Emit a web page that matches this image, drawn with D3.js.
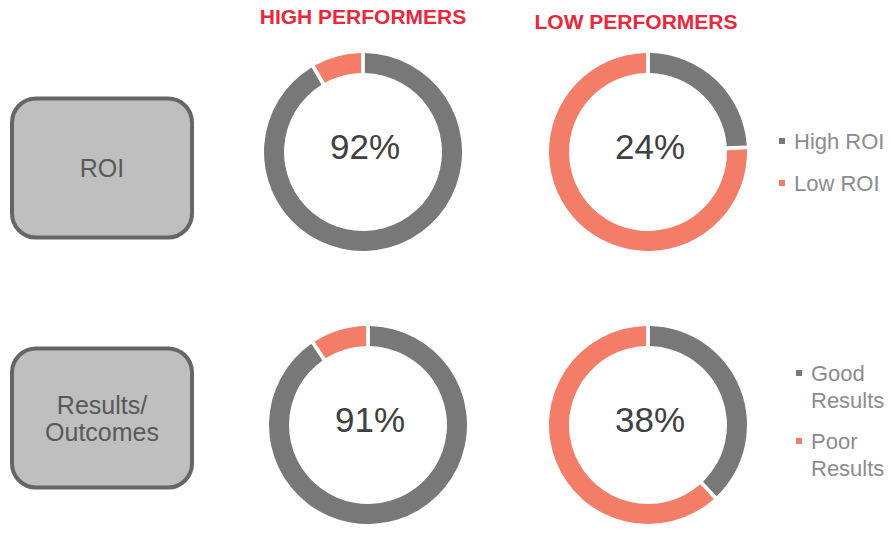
<!DOCTYPE html>
<html>
<head>
<meta charset="utf-8">
<script src="https://cdn.jsdelivr.net/npm/d3@7"></script>
<style>
  html, body { margin: 0; padding: 0; background: #ffffff; }
  svg { display: block; font-family: "Liberation Sans", Arial, sans-serif; }
</style>
</head>
<body>
<svg id="chart" width="891" height="534"></svg>
<script>
// ---- data ----
const groups = ["HIGH PERFORMERS", "LOW PERFORMERS"];
const metrics = ["ROI", "Results/Outcomes"];
const metricLabels = [["ROI"], ["Results/", "Outcomes"]];
// share of the "good" category (High ROI / Good Results), per metric, per group
const goodShare = [
  [92, 24],  // ROI: high performers, low performers
  [91, 38]   // Results/Outcomes
];
const legendLabels = [
  [["High ROI"], ["Low ROI"]],
  [["Good", "Results"], ["Poor", "Results"]]
];
const categories = ["good", "poor"];

// ---- styles ----
const color = d3.scaleOrdinal().domain(categories).range(["#787878", "#f47d68"]);
const svg = d3.select("#chart");

const colX = d3.scalePoint().domain(groups).range([363, 648]);
const rowY = d3.scalePoint().domain(metrics).range([152, 425]);
const boxY = d3.scalePoint().domain(metrics).range([168, 418]);

const outerR = 99, innerR = 79;
const pie = d3.pie().sort(null).value(d => d.value).padAngle(0.03);
const arc = d3.arc().innerRadius(innerR).outerRadius(outerR);

// Titles
svg.selectAll("text.title").data(groups).join("text")
  .attr("class", "title")
  .attr("x", (d, i) => colX(d) + (i === 0 ? 0 : -12))
  .attr("y", (d, i) => i === 0 ? 24 : 29)
  .attr("text-anchor", "middle")
  .attr("font-size", 21)
  .attr("font-weight", "bold")
  .attr("fill", "#e8283c")
  .text(d => d);

metrics.forEach((m, mi) => {
  // metric box
  const bh = 139, bw = 180;
  const g = svg.append("g");
  g.append("rect")
    .attr("x", 12).attr("y", boxY(m) - bh / 2)
    .attr("width", bw).attr("height", bh)
    .attr("rx", 24).attr("ry", 24)
    .attr("fill", "#bfbfbf")
    .attr("stroke", "#666666")
    .attr("stroke-width", 4);
  const lines = metricLabels[mi];
  const lh = 27;
  g.selectAll("text.mlabel").data(lines).join("text")
    .attr("class", "mlabel")
    .attr("x", 12 + bw / 2)
    .attr("y", (d, i) => boxY(m) + 9 + (i - (lines.length - 1) / 2) * lh)
    .attr("text-anchor", "middle")
    .attr("font-size", 25)
    .attr("fill", "#595959")
    .text(d => d);

  // donuts
  groups.forEach((grp, gi) => {
    const v = goodShare[mi][gi];
    const data = [{ key: "good", value: v }, { key: "poor", value: 100 - v }];
    const dx = (mi === 1 && gi === 0) ? 5 : 0;
    const dg = svg.append("g")
      .attr("transform", `translate(${colX(grp) + dx},${rowY(m)})`);
    dg.selectAll("path").data(pie(data)).join("path")
      .attr("d", arc)
      .attr("fill", d => color(d.data.key));
    dg.append("text")
      .attr("x", 2).attr("y", 7)
      .attr("text-anchor", "middle")
      .attr("font-size", 35)
      .attr("fill", "#404040")
      .text(v + "%");
  });

  // legend
  const lx = mi === 0 ? 779 : 796;
  const ly0 = mi === 0 ? rowY(m) - 11 : rowY(m) - 52;
  const itemGap = mi === 0 ? 42 : 68;
  legendLabels[mi].forEach((lab, li) => {
    const y = ly0 + li * itemGap;
    svg.append("rect")
      .attr("x", lx).attr("y", y - 3)
      .attr("width", 6).attr("height", 6)
      .attr("fill", color(categories[li]));
    lab.forEach((t, ti) => {
      svg.append("text")
        .attr("x", lx + 15)
        .attr("y", y + 8 + ti * 27)
        .attr("font-size", 22)
        .attr("fill", "#8c8c8c")
        .text(t);
    });
  });
});
</script>
</body>
</html>
